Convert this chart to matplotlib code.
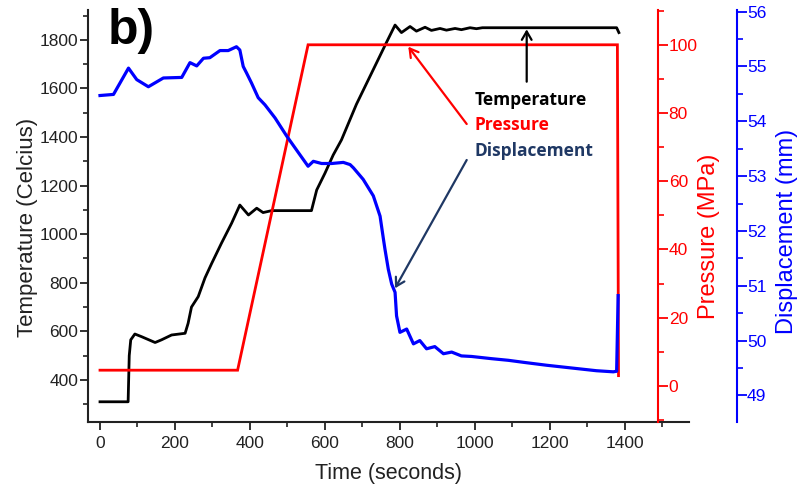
import matplotlib
matplotlib.use("Agg")
import matplotlib.pyplot as plt
from matplotlib.ticker import MultipleLocator

# ---------------- data ----------------
temp_time = [0, 75, 78, 82, 93, 111, 147, 164, 191, 227, 235, 244, 262, 280, 298, 324,
             351, 373, 396, 418, 435, 458, 564, 578, 600, 622, 644, 684, 763, 787, 804,
             827, 844, 867, 884, 907, 924, 947, 964, 987, 1004, 1020, 1378, 1384]
temp_vals = [310, 310, 500, 565, 589, 578, 554, 565, 585, 592, 633, 700, 743, 820, 880, 963,
             1045, 1120, 1079, 1107, 1089, 1097, 1097, 1182, 1251, 1326, 1388, 1535, 1786, 1861, 1830,
             1855, 1836, 1852, 1839, 1847, 1840, 1847, 1842, 1850, 1846, 1850, 1850, 1830]

pres_time = [0, 367, 555, 1380, 1383]
pres_vals = [4.6, 4.6, 100, 100, 3]

disp_time = [0, 36, 76, 98, 129, 169, 218, 240, 258, 276, 293, 320, 342, 364, 373, 382,
             391, 404, 422, 440, 467, 498, 529, 555, 569, 591, 618, 649, 667, 676, 702, 729,
             747, 756, 760, 769, 778, 787, 791, 800, 818, 836, 853, 871, 893, 916, 938, 964,
             991, 1044, 1089, 1133, 1191, 1324, 1369, 1378, 1382]
disp_vals = [54.47, 54.49, 54.97, 54.76, 54.63, 54.79, 54.80, 55.07, 55.01, 55.15, 55.16, 55.29,
             55.29, 55.36, 55.30, 55.0, 54.88, 54.70, 54.43, 54.30, 54.06, 53.73, 53.43, 53.18,
             53.27, 53.23, 53.23, 53.25, 53.21, 53.15, 52.94, 52.64, 52.27, 51.85, 51.67, 51.30,
             51.03, 50.88, 50.45, 50.15, 50.21, 49.94, 50.0, 49.85, 49.89, 49.76, 49.79, 49.72,
             49.71, 49.67, 49.64, 49.60, 49.55, 49.45, 49.43, 49.44, 50.82]

x_ticks = [0, 200, 400, 600, 800, 1000, 1200, 1400]
t_ticks = [400, 600, 800, 1000, 1200, 1400, 1600, 1800]
p_ticks = [0, 20, 40, 60, 80, 100]
d_ticks = [49, 50, 51, 52, 53, 54, 55, 56]

# ---------------- figure ----------------
W, H = 809, 495
plt.rcParams['font.family'] = ['Liberation Sans', 'DejaVu Sans']
fig = plt.figure(figsize=(W / 100, H / 100), dpi=100)

def fx(px):
    return px / W

def fy(py):
    return 1 - py / H

L, R, T, B = 88, 689, 10, 421.7
ax = fig.add_axes([fx(L), fy(B), (R - L) / W, (B - T) / H])
ax2 = ax.twinx()
ax3 = ax.twinx()

lw = 2.0
ax.plot(temp_time, temp_vals, color='black', lw=lw, solid_joinstyle='round')
ax2.plot(pres_time, pres_vals, color='#FF0000', lw=lw, solid_joinstyle='miter')
ax3.plot(disp_time, disp_vals, color='#0000FF', lw=lw * 1.15, solid_joinstyle='round')

ax.set_xlim(-32, 1571)
ax.set_ylim(228, 1923)
ax2.set_ylim(-10.5, 110.2)
ax3.set_ylim(48.52, 56.03)

# main axis
for s in ['top', 'right']:
    ax.spines[s].set_visible(False)
for s in ['left', 'bottom']:
    ax.spines[s].set_linewidth(1.5)
    ax.spines[s].set_color('#222222')
ax.set_xticks(x_ticks)
ax.set_yticks(t_ticks)
ax.xaxis.set_minor_locator(MultipleLocator(100))
ax.yaxis.set_minor_locator(MultipleLocator(100))
ax.tick_params(axis='both', which='major', direction='out', length=6, width=1.3,
               labelsize=12.5, colors='#222222')
ax.tick_params(axis='both', which='minor', direction='out', length=3.5, width=1.2, colors='#222222')
ax.tick_params(axis='x', which='major', pad=4)
ax.tick_params(axis='y', which='major', pad=1)

# pressure axis
for s in ['top', 'left', 'bottom']:
    ax2.spines[s].set_visible(False)
ax2.spines['right'].set_position(('axes', (658.3 - L) / (R - L)))
ax2.spines['right'].set_color('#FF0000')
ax2.spines['right'].set_linewidth(1.5)
ax2.set_yticks(p_ticks)
ax2.yaxis.set_minor_locator(MultipleLocator(10))
ax2.tick_params(axis='y', which='major', direction='out', length=7, width=1.3,
                labelsize=12.5, colors='#FF0000', pad=0.5)
ax2.tick_params(axis='y', which='minor', direction='out', length=4.5, width=1.2, colors='#FF0000')

# displacement axis
for s in ['top', 'left', 'bottom']:
    ax3.spines[s].set_visible(False)
ax3.spines['right'].set_position(('axes', (736.7 - L) / (R - L)))
ax3.spines['right'].set_color('#0000FF')
ax3.spines['right'].set_linewidth(1.5)
ax3.set_yticks(d_ticks)
ax3.yaxis.set_minor_locator(MultipleLocator(0.5))
ax3.tick_params(axis='y', which='major', direction='out', length=7, width=1.3,
                labelsize=12.5, colors='#0000FF', pad=0.5)
ax3.tick_params(axis='y', which='minor', direction='out', length=4.5, width=1.2, colors='#0000FF')

# axis labels
fig.text(fx(388.5), fy(473), 'Time (seconds)', ha='center', va='center', fontsize=15.5, color='#222222')
fig.text(fx(27.5), fy(227.5), 'Temperature (Celcius)', ha='center', va='center', rotation=90,
         fontsize=16, color='#222222')
fig.text(fx(709), fy(236.5), 'Pressure (MPa)', ha='center', va='center', rotation=90,
         fontsize=17, color='#FF0000')
fig.text(fx(787), fy(231.5), 'Displacement (mm)', ha='center', va='center', rotation=90,
         fontsize=17, color='#0000FF')

# panel letter
fig.text(fx(108), fy(31), 'b)', ha='left', va='center', fontsize=36, fontweight='bold', color='black')

# legend-like labels
navy = '#1F3864'
fig.text(fx(475), fy(100), 'Temperature', ha='left', va='center', fontsize=12.5,
         fontweight='bold', color='black', family='Open Sans')
fig.text(fx(475), fy(125.5), 'Pressure', ha='left', va='center', fontsize=12.5,
         fontweight='bold', color='#FF0000', family='Open Sans')
fig.text(fx(475), fy(151.5), 'Displacement', ha='left', va='center', fontsize=12.5,
         fontweight='bold', color=navy, family='Open Sans')

def arrow(x0, y0, x1, y1, color):
    fig.patches.append(matplotlib.patches.FancyArrowPatch(
        (fx(x0), fy(y0)), (fx(x1), fy(y1)), transform=fig.transFigure,
        arrowstyle='->,head_length=6,head_width=3.5', color=color, lw=1.6,
        shrinkA=0, shrinkB=0, mutation_scale=1))

arrow(526.7, 81.7, 526.7, 29.3, 'black')
arrow(466.7, 124, 408.3, 46.7, '#FF0000')
arrow(466.7, 160, 395, 288.3, navy)

fig.savefig('out.png', dpi=100)
